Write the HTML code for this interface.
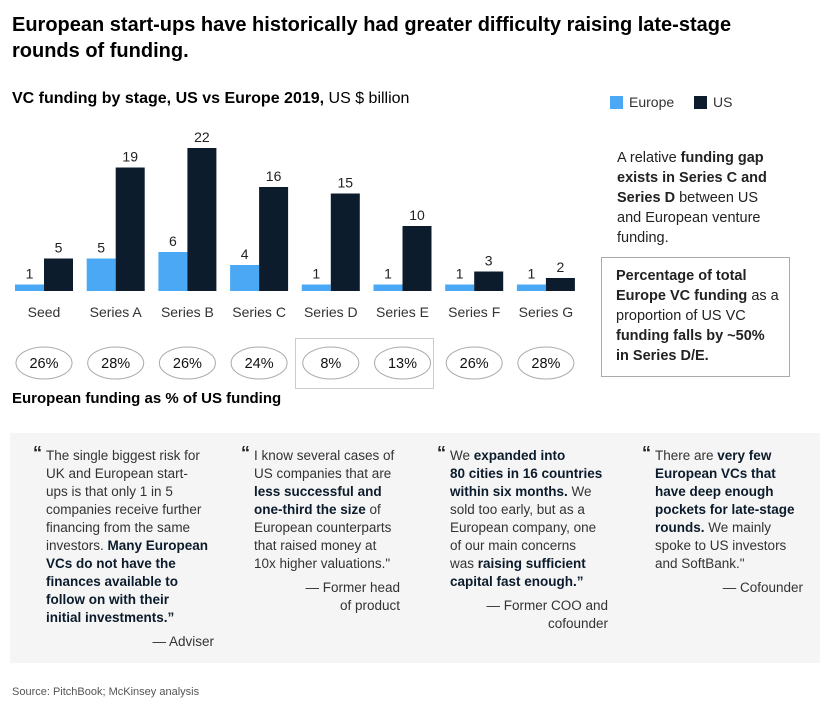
<!DOCTYPE html>
<html><head><meta charset="utf-8">
<style>
body{margin:0;width:835px;height:720px;background:#fff;font-family:"Liberation Sans",sans-serif;color:#000;position:relative;overflow:hidden}
.abs{position:absolute}
.q{position:absolute;font-size:13.5px;line-height:18px;color:#333;white-space:nowrap}
.q b{color:#0b1b2b}
.q .m{position:absolute;left:-13px;top:-3px;font-size:18px;font-weight:bold;color:#222}
.q .by{text-align:right;margin-top:6px}
</style></head><body>
<div class="abs" style="left:12px;top:12px;font-size:20px;font-weight:bold;line-height:26px;color:#000">European start-ups have historically had greater difficulty raising late-stage<br>rounds of funding.</div>
<div class="abs" style="left:12px;top:90px;font-size:16px"><b>VC funding by stage, US vs Europe 2019,</b> US $ billion</div>
<div class="abs" style="left:610px;top:94px;font-size:14px;color:#333"><span style="display:inline-block;width:13px;height:13px;background:#4aa8f5;vertical-align:-2px;margin-right:6px"></span>Europe</div>
<div class="abs" style="left:694px;top:94px;font-size:14px;color:#333"><span style="display:inline-block;width:13px;height:13px;background:#0d1c2c;vertical-align:-2px;margin-right:6px"></span>US</div>

<div class="abs" style="left:295px;top:338px;width:139px;height:51px;border:1.5px solid #ccc;box-sizing:border-box"></div>
<svg class="abs" style="left:0;top:0" width="600" height="420" id="chart"></svg>
<div class="abs" style="left:12px;top:390px;font-size:15px;font-weight:bold">European funding as % of US funding</div>

<div class="abs" style="left:617px;top:148px;font-size:14.5px;line-height:20px;color:#222">A relative <b>funding gap<br>exists in Series C and<br>Series D</b> between US<br>and European venture<br>funding.</div>
<div class="abs" style="left:601px;top:257px;width:189px;height:120px;border:1px solid #aaa;box-sizing:border-box;padding:8px 0 0 14px;font-size:14.5px;line-height:20px;color:#222"><b>Percentage of total<br>Europe VC funding</b> as a<br>proportion of US VC<br><b>funding falls by ~50%<br>in Series D/E.</b></div>

<div class="abs" style="left:10px;top:433px;width:810px;height:230px;background:#f5f5f5"></div>
<div class="q" style="left:46px;top:447px;width:168px"><span class="m">“</span>The single biggest risk for<br>UK and European start-<br>ups is that only 1 in 5<br>companies receive further<br>financing from the same<br>investors. <b>Many European<br>VCs do not have the<br>finances available to<br>follow on with their<br>initial investments.”</b><div class="by">— Adviser</div></div>
<div class="q" style="left:254px;top:447px;width:146px"><span class="m">“</span>I know several cases of<br>US companies that are<br><b>less successful and<br>one-third the size</b> of<br>European counterparts<br>that raised money at<br>10x higher valuations."<div class="by">— Former head<br>of product</div></div>
<div class="q" style="left:450px;top:447px;width:158px"><span class="m">“</span>We <b>expanded into<br>80 cities in 16 countries<br>within six months.</b> We<br>sold too early, but as a<br>European company, one<br>of our main concerns<br>was <b>raising sufficient<br>capital fast enough.”</b><div class="by">— Former COO and<br>cofounder</div></div>
<div class="q" style="left:655px;top:447px;width:148px"><span class="m">“</span>There are <b>very few<br>European VCs that<br>have deep enough<br>pockets for late-stage<br>rounds.</b> We mainly<br>spoke to US investors<br>and SoftBank."<div class="by">— Cofounder</div></div>

<div class="abs" style="left:12px;top:686px;font-size:11px;color:#555">Source: PitchBook; McKinsey analysis</div>

<script>
const categories=["Seed","Series A","Series B","Series C","Series D","Series E","Series F","Series G"];
const europe=[1,5,6,4,1,1,1,1];
const us=[5,19,22,16,15,10,3,2];
const pctLabels=["26%","28%","26%","24%","8%","13%","26%","28%"];
const svg=document.getElementById('chart');
const NS="http://www.w3.org/2000/svg";
const base=291, unit=6.5, x0=15, step=71.7, bw=29;
const y=v=>base-v*unit;
function mk(t,a){const e=document.createElementNS(NS,t);for(const k in a)e.setAttribute(k,a[k]);svg.appendChild(e);return e;}
categories.forEach((c,i)=>{
  const gx=x0+i*step;
  let r=mk('rect',{x:gx,y:y(europe[i]),width:bw,height:europe[i]*unit,fill:'#4aa8f5'});
  
  
  r=mk('rect',{x:gx+bw,y:y(us[i]),width:bw,height:us[i]*unit,fill:'#0d1c2c'});
  
  
  let t=mk('text',{x:gx+bw/2,y:y(europe[i])-6,'text-anchor':'middle','font-size':14,fill:'#222'});t.textContent=europe[i];
  
  
  t=mk('text',{x:gx+bw*1.5,y:y(us[i])-6,'text-anchor':'middle','font-size':14,fill:'#222'});t.textContent=us[i];
  
  
  t=mk('text',{x:gx+bw,y:317,'text-anchor':'middle','font-size':14,fill:'#333'});t.textContent=c;
  
  
  const e=mk('ellipse',{cx:gx+bw,cy:363,rx:28,ry:16,fill:'#fff',stroke:'#aaa','stroke-width':1});
  
  
  t=mk('text',{x:gx+bw,y:368,'text-anchor':'middle','font-size':14.5,fill:'#111'});t.textContent=pctLabels[i];
  
  
});
</script>
</body></html>
